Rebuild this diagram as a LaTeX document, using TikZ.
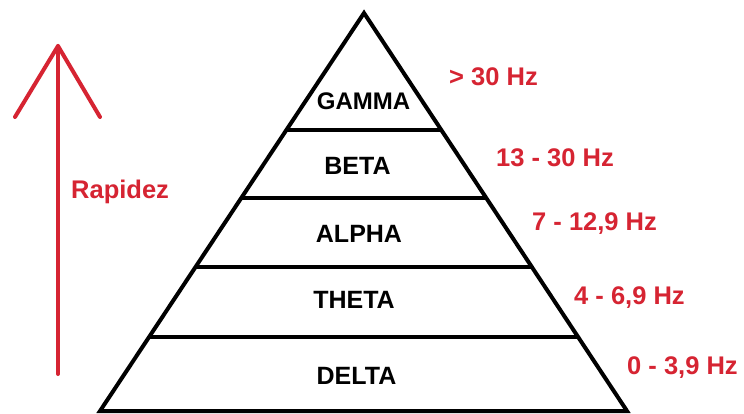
\documentclass[tikz,border=0pt]{standalone}
\usepackage{fontspec}
\setmainfont{Liberation Sans}
\usetikzlibrary{calc}
\definecolor{lblred}{RGB}{214,36,50}
\begin{document}
\begin{tikzpicture}[x=1pt,y=-1pt,
  edge/.style={line width=4pt,line join=miter,black},
  band/.style={font=\fontsize{25}{29}\selectfont\bfseries,text=black,inner sep=0pt},
  freq/.style={font=\fontsize{25.5}{29}\selectfont\bfseries,text=lblred,inner sep=0pt,anchor=west},
  redline/.style={line width=4pt,lblred,line cap=round,line join=round}]
\useasboundingbox (0,0) rectangle (744,414);
\fill[white] (0,0) rectangle (744,414);
% pyramid
\coordinate (A) at (364,13);
\coordinate (BL) at (100,411);
\coordinate (BR) at (627,411);
\draw[edge] (BL) -- (A) -- (BR) -- cycle;
\foreach \t/\n in {0.2932/1,0.4637/2,0.6391/3,0.8145/4}{
  \coordinate (L\n) at ($(A)!\t!(BL)$);
  \coordinate (R\n) at ($(A)!\t!(BR)$);
  \draw[edge] (L\n) -- (R\n);
}
% band labels
\node[band,font=\fontsize{24}{28}\selectfont\bfseries] (gamma) at (363.5,101) {GAMMA};
\node[band] (beta) at (357.5,166) {BETA};
\node[band] (alpha) at (359,234) {ALPHA};
\node[band] (theta) at (354,300) {THETA};
\node[band] (delta) at (356.5,376) {DELTA};
% frequency labels
\node[freq] (f1) at (449,77) {> 30 Hz};
\node[freq] (f2) at (496,158) {13 - 30 Hz};
\node[freq] (f3) at (532,224) {7 - 12,9 Hz};
\node[freq] (f4) at (574,298) {4 - 6,9 Hz};
\node[freq] (f5) at (627,368) {0 - 3,9 Hz};
% arrow
\coordinate (tail) at (58,374);
\coordinate (tip) at (58,46);
\coordinate (hl) at (15,117);
\coordinate (hr) at (100,117);
\draw[redline] (tail) -- (tip);
\draw[redline] (hl) -- (tip) -- (hr);
\node[freq] (rap) at (71,192) {Rapidez};
\end{tikzpicture}
\end{document}
